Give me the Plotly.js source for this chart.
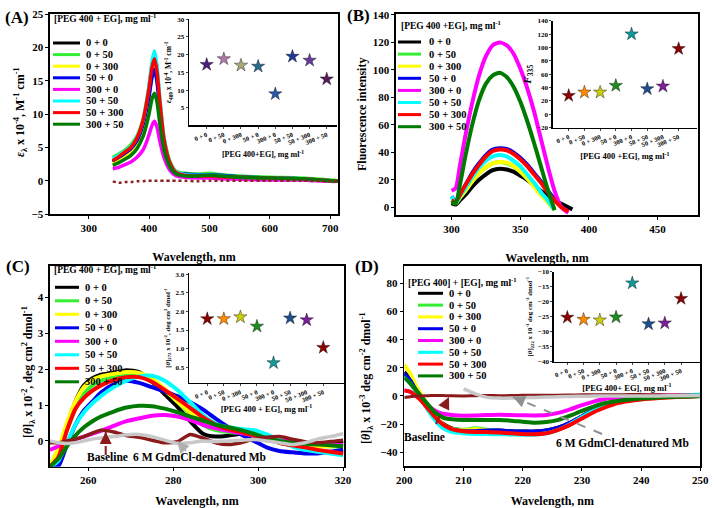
<!DOCTYPE html>
<html><head><meta charset="utf-8">
<script src="https://cdn.plot.ly/plotly-3.0.1.min.js"></script>
<style>body{margin:0;background:#fff}#chart{width:716px;height:508px}</style>
</head><body><div id="chart"></div>
<script>
// ---------- series (shared) ----------
const seriesNames = ["0 + 0","0 + 50","0 + 300","50 + 0","300 + 0","50 + 50","50 + 300","300 + 50"];
const seriesColors = ["#000000","#33ee33","#ffff00","#0000ee","#ff00ff","#00ffff","#ff0000","#007a00"];
const insetColorsA = ["#4b1f7a","#b07aa8","#a8a878","#2a6a8a","#2a56a8","#1f3a96","#6a3a9a","#5a1a5a"];
const insetColors = ["#8b0000","#ff8c00","#cccc10","#1e8c1e","#129a9a","#1f4e8c","#7b1f9a","#8b0000"];

// ---------- Panel A: absorption ----------
const wlA = [340,350,360,370,380,390,395,400,405,409,413,418,425,435,445,460,480,500,520,550,600,650,700,713];
const A_0_0   = [2.8,3.4,4.0,4.8,6.0,8.4,10.5,13.0,16.0,17.2,15.5,11.0,5.8,2.4,1.2,0.8,0.7,0.8,0.7,0.5,0.4,0.3,0.0,-0.1];
const A_0_50  = [3.5,4.0,4.6,5.4,6.7,9.2,11.4,14.2,17.4,18.8,17.0,12.0,6.4,2.8,1.4,1.1,1.0,1.1,0.9,0.7,0.5,0.4,0.1,0.0];
const A_0_300 = [2.5,3.0,3.6,4.3,5.5,8.0,10.2,12.8,15.8,17.0,15.3,10.8,5.6,2.3,1.1,0.8,0.7,0.7,0.6,0.5,0.4,0.3,0.0,-0.1];
const A_50_0  = [3.0,3.5,4.1,4.8,6.0,8.4,10.3,12.6,15.5,16.7,15.0,10.6,5.6,2.4,1.2,1.0,0.9,0.9,0.8,0.6,0.4,0.3,0.0,-0.1];
const A_300_0 = [1.8,2.0,2.4,2.8,3.5,4.6,5.6,6.9,8.3,8.9,8.1,5.9,3.4,1.5,0.7,0.5,0.4,0.4,0.3,0.2,0.1,0.1,-0.1,-0.1];
const A_50_50 = [3.3,3.8,4.4,5.1,6.5,9.0,11.3,14.2,17.9,19.5,17.5,12.3,6.4,2.7,1.3,0.9,0.8,0.8,0.7,0.5,0.4,0.3,0.0,-0.1];
const A_50_300= [3.0,3.6,4.3,5.0,6.4,9.0,11.2,13.8,17.0,18.3,16.5,11.8,6.1,2.6,1.2,0.8,0.7,0.7,0.6,0.5,0.4,0.3,0.0,-0.1];
const A_300_50= [2.3,2.7,3.2,3.8,4.8,6.6,8.1,10.0,12.3,13.1,11.9,8.5,4.6,2.0,1.0,0.7,0.7,0.8,0.7,0.5,0.4,0.3,0.0,-0.1];
const A_base  = [-0.1,-0.3,-0.2,-0.2,-0.1,-0.1,0,0,0,0,0,0,0,0,0,0,-0.1,0,0,0,0,0,-0.1,-0.1];
const insetA = [17.2,18.8,17.0,16.7,8.9,19.5,18.4,13.1];

// ---------- Panel B: fluorescence ----------
const wlB = [300,303,306,310,315,320,325,330,335,340,345,350,355,360,365,370,375,380,385,388];
const B_0_0   = [3,2,5,9,15,20,24,27,28,27.5,26,23,20,16,12,8.5,5,2.5,0,-1.5];
const B_0_50  = [5,3,7,12,19,25,29,32,33,32,30,26,21,16,10,5,-1,null,null,null];
const B_0_300 = [4,3,7,12,19,25,29,32,33,32.5,30,26,21,15,9,3.5,-2,null,null,null];
const B_50_0  = [8,4,9,16,25,32,38,42,43,42.5,40,36,31,25,19,12,6,0.5,-3,null];
const B_300_0 = [12,14,30,52,76,96,110,118,120,118,112,101,87,70,50,30,12,0,-4,null];
const B_50_50 = [8,3,8,14,22,29,34,37,38,37,34,30,24,18,11,5,-2,null,null,null];
const B_50_300= [5,4,9,16,24,31,37,41,42,41.5,39,35,30,24,18,11,5,0,-3,null];
const B_300_50= [4,3,16,37,60,78,90,96,98,95,88,77,63,47,30,13,-2,null,null,null];
const insetB = [28,33,33,43,120,38,42,98];

// ---------- Panel C: near-UV CD ----------
const wlC = [251,253,255,257,259,261,263,266,269,272,275,278,281,284,287,290,293,296,299,302,305,308,311,314,317,320];
const C_0_0   = [-0.7,-0.3,0.4,1.1,1.55,1.75,1.85,1.9,1.97,1.92,1.65,1.3,0.95,0.55,0.2,0.12,0.15,0.2,0.2,0.12,-0.05,-0.12,-0.15,-0.12,-0.05,0.0];
const C_0_50  = [-0.7,-0.3,0.3,0.9,1.3,1.55,1.68,1.78,1.82,1.8,1.65,1.4,1.1,0.75,0.45,0.3,0.25,0.22,0.15,0.05,-0.05,-0.1,-0.12,-0.15,-0.15,-0.15];
const C_0_300 = [-0.7,-0.2,0.5,1.1,1.5,1.7,1.8,1.87,1.92,1.9,1.75,1.45,1.1,0.8,0.5,0.35,0.3,0.25,0.2,0.1,0.0,-0.1,-0.15,-0.15,-0.15,-0.15];
const C_50_0  = [-0.75,-0.7,-0.1,0.45,0.85,1.1,1.35,1.58,1.68,1.62,1.5,1.38,1.25,1.08,0.88,0.62,0.38,0.18,0.0,-0.18,-0.28,-0.32,-0.35,-0.35,-0.3,-0.25];
const C_300_0 = [-0.25,-0.15,-0.05,0.05,0.12,0.2,0.28,0.42,0.55,0.63,0.7,0.72,0.68,0.58,0.45,0.35,0.28,0.22,0.15,0.08,0.02,0.0,-0.05,-0.08,-0.1,-0.12];
const C_50_50 = [-0.72,-0.55,-0.05,0.45,0.8,1.05,1.25,1.5,1.68,1.8,1.82,1.68,1.42,1.08,0.72,0.48,0.38,0.33,0.3,0.18,0.02,-0.15,-0.25,-0.3,-0.35,-0.4];
const C_50_300= [-0.72,-0.45,0.3,0.9,1.2,1.4,1.55,1.7,1.78,1.78,1.65,1.42,1.18,0.92,0.66,0.45,0.32,0.25,0.15,0.05,-0.05,-0.12,-0.18,-0.25,-0.3,-0.35];
const C_300_50= [-0.72,-0.5,-0.15,0.15,0.38,0.55,0.68,0.82,0.93,0.98,0.97,0.9,0.8,0.68,0.57,0.45,0.38,0.3,0.2,0.08,0.0,-0.05,-0.08,-0.1,-0.12,-0.15];
const C_base  = [-0.05,-0.05,0.0,0.05,0.12,0.22,0.3,0.25,0.15,0.1,0.02,-0.05,-0.02,0.18,0.08,-0.05,-0.1,-0.05,0.05,0.1,0.12,0.05,-0.02,-0.05,-0.02,0.02];
const C_gdm   = [0.0,-0.05,-0.07,-0.05,0.0,0.05,0.08,0.12,0.17,0.18,0.12,0.02,-0.07,-0.05,0.0,-0.02,0.0,0.02,0.04,0.0,-0.05,-0.1,-0.05,0.05,0.12,0.2];
const insetC = [1.80,1.80,1.85,1.60,0.62,1.82,1.77,1.03];

// ---------- Panel D: far-UV CD ----------
const wlD = [200,201,202,203,204,205,206,207,208,210,212,214,216,218,220,222,224,226,228,230,232,234,236,238,240,243,246,250];
const D_0_0   = [17,12,5,-1,-7,-13,-18,-21,-23,-24.5,-24.5,-24.5,-24.5,-25,-25.2,-25.3,-24.5,-22.5,-19,-14.5,-10,-6.5,-4,-2.5,-1.5,-0.8,-0.3,0];
const D_0_50  = [15,11,4,-2,-8,-14,-19,-22,-23.5,-24,-23,-24,-25,-25.5,-26,-26,-25.5,-23.5,-20,-15,-10.5,-6.5,-4,-2.5,-1.5,-0.8,-0.3,0];
const D_0_300 = [22,16,7,0,-7,-13,-18,-21.5,-23.5,-24.5,-23.5,-24.5,-25.5,-26,-26.2,-26.2,-25.5,-23.5,-20,-15,-10.5,-7,-4.5,-3,-2,-1,-0.4,0];
const D_50_0  = [16,11,4,-2,-9,-15,-19.5,-22.5,-24,-25,-25,-24.5,-24.5,-25,-25.2,-25.2,-24.5,-22.5,-19,-14.5,-10,-6.5,-4,-2.5,-1.5,-0.8,-0.3,0];
const D_300_0 = [4,3,0,-3,-7,-10,-12,-13,-13.5,-14,-13.8,-13.5,-13.3,-13.5,-13.7,-13.8,-13.5,-12,-9.5,-6.5,-4,-2,-1,-0.3,0,0.3,0.3,0.5];
const D_50_50 = [13,9,3,-3,-10,-16,-21,-24,-25.5,-26.5,-27,-27,-27.2,-27.3,-27.5,-27.5,-26.5,-24,-20,-15,-10.5,-7,-4.5,-2.5,-1.5,-0.5,0,1];
const D_50_300= [4,3,0,-4,-9,-14,-18.5,-21.5,-23.5,-25,-25.5,-25.5,-26,-26.5,-27,-27.2,-26.5,-24,-20.5,-16,-11.5,-8,-5,-3.5,-2.5,-1.5,-0.8,0];
const D_300_50= [13,9,4,-1,-6,-11,-14,-16,-16.5,-17,-17,-17,-17,-17.5,-18.3,-19,-18.5,-17,-14,-10.5,-7.5,-5,-3.5,-2.5,-1.8,-1,-0.5,0];
const D_base  = [-1,-0.5,0,0,0.2,0.3,0.3,0.2,0.1,0,0.2,0.3,0.2,0.3,0.5,0.6,0.5,0.6,0.7,0.8,0.8,0.8,0.9,1.0,1.0,0.8,0.7,0.5];
const D_gdm   = [null,null,null,null,null,null,null,null,null,5,1.5,-1,-1.5,-1.5,-1.3,-1,-0.8,-0.5,-0.3,-0.2,-0.1,0,0,0,0,0,0.2,0.3];
const insetD = [-25.3,-26.0,-26.2,-25.2,-13.8,-27.5,-27.2,-19.0];

// ---------- helpers ----------
const W = 716, H = 508;
const px = x => x / W;
const py = y => 1 - y / H;
const FAM = "Liberation Serif, Times New Roman, serif";
const fnt = (s, extra) => Object.assign({family: FAM, size: s, color: "#000", weight: "bold"}, extra || {});

const traces = [];
const shapes = [];
const annotations = [];

function addCurves(xs, list, xa, ya, width) {
  list.forEach((ys, i) => traces.push({
    type: "scatter", mode: "lines", x: xs, y: ys, xaxis: xa, yaxis: ya,
    line: {color: seriesColors[i], width: width, shape: "spline", smoothing: 0.6},
    showlegend: false, hoverinfo: "skip"
  }));
}
function addRef(xs, ys, xa, ya, color, dash, width) {
  traces.push({type: "scatter", mode: "lines", x: xs, y: ys, xaxis: xa, yaxis: ya,
    line: {color: color, width: width || 3, dash: dash || "dot", shape: "spline", smoothing: 0.6},
    connectgaps: false, showlegend: false, hoverinfo: "skip"});
}
function addInset(vals, colors, xa, ya) {
  traces.push({type: "scatter", mode: "markers", x: seriesNames, y: vals, xaxis: xa, yaxis: ya,
    marker: {symbol: "star", size: 10, color: colors, line: {color: "rgba(0,0,0,0.55)", width: 0.7}},
    showlegend: false, hoverinfo: "skip"});
}
function legendBlock(title, xTitle, yTitle, xl0, xl1, xt, y0, dy) {
  annotations.push({xref: "paper", yref: "paper", x: px(xTitle), y: py(yTitle), xanchor: "left", yanchor: "middle",
    text: title, showarrow: false, font: fnt(9.5)});
  seriesNames.forEach((n, i) => {
    const yy = y0 + i * dy;
    shapes.push({type: "line", xref: "paper", yref: "paper", x0: px(xl0), x1: px(xl1), y0: py(yy), y1: py(yy),
      line: {color: seriesColors[i], width: 3}});
    annotations.push({xref: "paper", yref: "paper", x: px(xt), y: py(yy), xanchor: "left", yanchor: "middle",
      text: n, showarrow: false, font: fnt(10.5)});
  });
}
function dashedArrow(x0, y0, x1, y1, color) {
  shapes.push({type: "line", xref: "paper", yref: "paper", x0: px(x0), y0: py(y0), x1: px(x1), y1: py(y1),
    line: {color: color, width: 2, dash: "dash"}});
  const L = Math.hypot(x1 - x0, y1 - y0), k = 7 / L;
  annotations.push({xref: "paper", yref: "paper", x: px(x1), y: py(y1), ax: -(x1 - x0) * k, ay: -(y1 - y0) * k,
    text: "", showarrow: true, arrowhead: 2, arrowsize: 1.2, arrowwidth: 2, arrowcolor: color});
}
function label(txt, x, y, size, anchor, angle) {
  annotations.push({xref: "paper", yref: "paper", x: px(x), y: py(y), xanchor: anchor || "center", yanchor: "middle",
    text: txt, showarrow: false, font: fnt(size), textangle: angle || 0});
}

// ---------- traces ----------
addCurves(wlA, [A_0_0, A_0_50, A_0_300, A_50_0, A_300_0, A_50_50, A_50_300, A_300_50], "x", "y", 3.5);
addRef(wlA, A_base, "x", "y", "#8b2323", "dot", 2.5);
addInset(insetA, insetColorsA, "x2", "y2");

addCurves(wlB, [B_0_0, B_0_50, B_0_300, B_50_0, B_300_0, B_50_50, B_50_300, B_300_50], "x3", "y3", 4);
addInset(insetB, insetColors, "x4", "y4");

addCurves(wlC, [C_0_0, C_0_50, C_0_300, C_50_0, C_300_0, C_50_50, C_50_300, C_300_50], "x5", "y5", 4);
addRef(wlC, C_base, "x5", "y5", "#8b1a1a", "solid", 3.5);
addRef(wlC, C_gdm, "x5", "y5", "#c8c8c8", "solid", 3.5);
addInset(insetC, insetColors, "x6", "y6");

addCurves(wlD, [D_0_0, D_0_50, D_0_300, D_50_0, D_300_0, D_50_50, D_50_300, D_300_50], "x7", "y7", 4);
addRef(wlD, D_base, "x7", "y7", "#8b1a1a", "solid", 3);
addRef(wlD, D_gdm, "x7", "y7", "#c8c8c8", "solid", 3.5);
addInset(insetD, insetColors, "x8", "y8");

// ---------- legends & labels ----------
legendBlock("[PEG 400 + EG], mg ml<sup>-1</sup>", 52, 18, 53, 80, 84, 43, 11.6);
legendBlock("[PEG 400 +EG], mg ml<sup>-1</sup>", 399, 25, 398, 421, 427, 42, 12.1);
legendBlock("[PEG 400 + EG], mg ml<sup>-1</sup>", 52, 269, 55, 79, 83, 287.3, 13.5);
legendBlock("[PEG 400] + [EG], mg ml<sup>-1</sup>", 406, 282, 418, 443, 447, 293.3, 11.8);

label("(A)", 17, 17, 17);
label("(B)", 358, 16, 17);
label("(C)", 18, 266, 17);
label("(D)", 367, 266, 17);

// main y-axis titles
label("<i>ε</i><sub>λ</sub> x 10<sup>-4</sup>, M<sup>-1</sup> cm<sup>-1</sup>", 20, 112, 12, "center", -90);
label("Fluorescence intensity", 362, 115, 12, "center", -90);
label("[<i>θ</i>]<sub>λ</sub> x 10<sup>-2</sup>, deg cm<sup>2</sup> dmol<sup>-1</sup>", 28, 372, 12, "center", -90);
label("[<i>θ</i>]<sub>λ</sub> x 10<sup>-3</sup> deg cm<sup>-2</sup> dmol<sup>-1</sup>", 366, 378, 12, "center", -90);

label("Baseline", 85, 457, 11.5, "left");
label("6 M GdmCl-denatured Mb", 131, 457, 11.5, "left");
dashedArrow(105.7, 455, 105.7, 432, "#8b1a1a");
dashedArrow(186, 451, 177, 441, "#b0b0b0");

label("Baseline", 424, 437, 11.5);
label("6 M GdmCl-denatured Mb", 622, 443, 11.5);
dashedArrow(436, 424, 449, 397, "#8b1a1a");
dashedArrow(602, 434, 513, 397, "#909090");

// ---------- axes ----------
function mainAx(dom, range, tickvals, title, anchor) {
  return {domain: dom, range: range, tickvals: tickvals, anchor: anchor,
    showline: true, linecolor: "#000", linewidth: 1.6, mirror: true, ticks: "outside", ticklen: 3,
    tickcolor: "#000", showgrid: false, zeroline: false, tickfont: fnt(11),
    title: {text: title, font: fnt(12)}, automargin: false};
}
function insetY(dom, range, tickvals, title, anchor, fs, standoff) {
  return {domain: dom, range: range, tickvals: tickvals, anchor: anchor, showline: true, linecolor: "#000",
    linewidth: 1.3, mirror: false, ticks: "outside", ticklen: 2, showgrid: false, zeroline: false,
    tickfont: fnt(7), title: {text: title, font: fnt(fs), standoff: standoff}, automargin: false};
}
function insetX(dom, range, title, anchor, fs, standoff) {
  return {domain: dom, range: range, type: "category", categoryarray: seriesNames, anchor: anchor,
    showline: true, linecolor: "#000", linewidth: 1.3, mirror: false, ticks: "outside", ticklen: 2,
    showgrid: false, zeroline: false, tickangle: -22, tickfont: fnt(6.5),
    title: {text: title, font: fnt(fs), standoff: standoff}, automargin: false};
}

const layout = {
  width: W, height: H, autosize: false, showlegend: false,
  margin: {l: 0, r: 0, t: 0, b: 0}, paper_bgcolor: "#fff", plot_bgcolor: "rgba(0,0,0,0)",
  font: {family: FAM, color: "#000"},
  xaxis: mainAx([0.0698, 0.4721], [236, 713], [300,400,500,600,700], "Wavelength, nm", "y"),
  yaxis: mainAx([0.5787, 0.9724], [-5, 25], [-5,0,5,10,15,20,25], "", "x"),
  xaxis2: insetX([0.2640, 0.4707], [-1.03, 7.6], "[PEG 400+EG], mg ml<sup>-1</sup>", "y2", 8, 6),
  yaxis2: insetY([0.7531, 0.9620], [0, 30], [5,10,15,20,25,30],
    "<i>ε</i><sub>409</sub> x 10<sup>-4</sup>, M<sup>-1</sup> cm<sup>-1</sup>", "x2", 7.5, 4),
  xaxis3: mainAx([0.5531, 0.9749], [259.5, 479.5], [300,350,400,450], "Wavelength, nm", "y3"),
  yaxis3: mainAx([0.5768, 0.9724], [-5.6, 140.7], [0,20,40,60,80,100,120,140], "", "x3"),
  xaxis4: insetX([0.7719, 0.9735], [-1.02, 8.17], "[PEG 400 +EG], mg ml<sup>-1</sup>", "y4", 8.5, 6),
  yaxis4: insetY([0.7486, 0.9593], [-20, 140], [-20,0,20,40,60,80,100,120,140],
    "<i>F</i><sub>335</sub>", "x4", 11, 3),
  xaxis5: mainAx([0.0698, 0.4804], [251, 320.2], [260,280,300,320], "Wavelength, nm", "y5"),
  yaxis5: mainAx([0.0813, 0.4770], [-0.72, 4.89], [0,1,2,3,4], "", "x5"),
  xaxis6: insetX([0.2640, 0.4804], [-1.1, 8.25], "[PEG 400 + EG], mg ml<sup>-1</sup>", "y6", 8.5, 2),
  yaxis6: insetY([0.2461, 0.4626], [0.08, 3.03], [0.5,1.0,1.5,2.0,2.5,3.0],
    "[<i>θ</i>]<sub>272</sub> x 10<sup>-2</sup>, deg cm<sup>2</sup> dmol<sup>-1</sup>", "x6", 6.8, 4),
  xaxis7: mainAx([0.5647, 0.9781], [200, 250], [200,210,220,230,240,250], "Wavelength, nm", "y7"),
  yaxis7: mainAx([0.0827, 0.4770], [-49.7, 92.5], [-40,-20,0,20,40,60,80], "", "x7"),
  xaxis8: insetX([0.7733, 0.9777], [-0.84, 8.17], "[PEG 400+ EG], mg ml<sup>-1</sup>", "y8", 8.5, 0),
  yaxis8: insetY([0.2880, 0.4652], [-40.1, -10], [-40,-35,-30,-25,-20,-15,-10],
    "[<i>θ</i>]<sub>222</sub> x 10<sup>-3</sup> deg cm<sup>-2</sup> dmol<sup>-1</sup>", "x8", 6.8, 4),
  shapes: shapes,
  annotations: annotations
};
layout.yaxis2.tickformat = "d";
layout.yaxis6.tickformat = ".1f";

Plotly.newPlot("chart", traces, layout, {staticPlot: true, displayModeBar: false});
</script>
</body></html>
